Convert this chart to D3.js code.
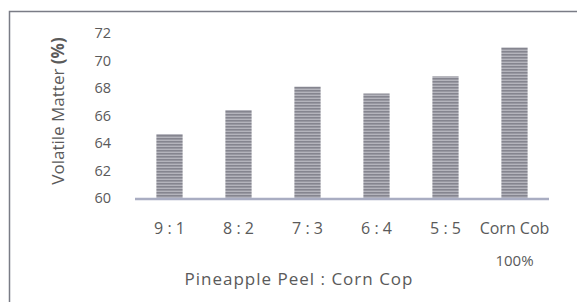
<!DOCTYPE html>
<html><head><meta charset="utf-8">
<script src="https://cdn.jsdelivr.net/npm/d3@7"></script>
<style>body{margin:0;background:#fff}svg{display:block}</style>
</head><body>
<script>
const categories = ["9 : 1", "8 : 2", "7 : 3", "6 : 4", "5 : 5", "Corn Cob"];
const values = [64.65, 66.4, 68.1, 67.6, 68.85, 70.95];
const yTicks = [60, 62, 64, 66, 68, 70, 72];

const W = 577, H = 302;
const svg = d3.select("body").append("svg").attr("width", W).attr("height", H);
const font = "'Open Sans', 'Noto Sans', sans-serif";

const defs = svg.append("defs");
const pat = defs.append("pattern").attr("id", "stripes").attr("patternUnits", "userSpaceOnUse")
  .attr("width", 4).attr("height", 3);
pat.append("rect").attr("width", 4).attr("height", 3).attr("fill", "#b4b4bc");
pat.append("rect").attr("width", 4).attr("height", 1.6).attr("fill", "#85858f");

// frame
svg.append("path").attr("d", `M9.5,${H} V11.5 H${W}`).attr("fill", "none")
  .attr("stroke", "#7a7c86").attr("stroke-width", 1.5);

const x = d3.scaleBand().domain(categories).range([135, 549]).paddingInner(0.62).paddingOuter(0.31);
const y = d3.scaleLinear().domain([60, 72]).range([198, 33]);

// bars
svg.append("g").selectAll("rect").data(values).join("rect")
  .attr("x", (d, i) => x(categories[i]))
  .attr("y", d => y(d))
  .attr("width", x.bandwidth())
  .attr("height", d => y(60) - y(d))
  .attr("fill", "url(#stripes)");

// baseline
svg.append("line").attr("x1", 135).attr("x2", 549).attr("y1", y(60) + 1).attr("y2", y(60) + 1)
  .attr("stroke", "#a9adc2").attr("stroke-width", 2.5);

// y axis labels
const yAxis = d3.axisLeft(y).tickValues(yTicks).tickSize(0).tickPadding(0);
const gy = svg.append("g").attr("transform", "translate(111,0)").call(yAxis);
gy.select(".domain").remove();
gy.selectAll("text").attr("font-family", font).attr("font-size", 14.5).attr("fill", "#5a5a5a");

// x axis labels
const xAxis = d3.axisBottom(x).tickSize(0).tickPadding(0);
const gx = svg.append("g").attr("transform", "translate(0,234)").call(xAxis);
gx.select(".domain").remove();
gx.selectAll("text").attr("font-family", font).attr("font-size", 16).attr("fill", "#5a5a5a").attr("dy", null).attr("y", 0);

svg.append("text").attr("x", x("Corn Cob") + x.bandwidth() / 2).attr("y", 266)
  .attr("text-anchor", "middle").attr("font-family", font).attr("font-size", 15).attr("fill", "#5a5a5a")
  .text("100%");

// x title
svg.append("text").attr("x", 299).attr("y", 285).attr("text-anchor", "middle")
  .attr("font-family", font).attr("font-size", 17).attr("letter-spacing", 1).attr("fill", "#5a5a5a")
  .text("Pineapple Peel : Corn Cop");

// y title
const yt = svg.append("text").attr("transform", "translate(64,111) rotate(-90)")
  .attr("text-anchor", "middle").attr("font-family", font).attr("font-size", 17).attr("fill", "#5a5a5a");
yt.append("tspan").text("Volatile Matter ");
yt.append("tspan").attr("font-weight", "bold").text("(%)");
</script>
</body></html>
